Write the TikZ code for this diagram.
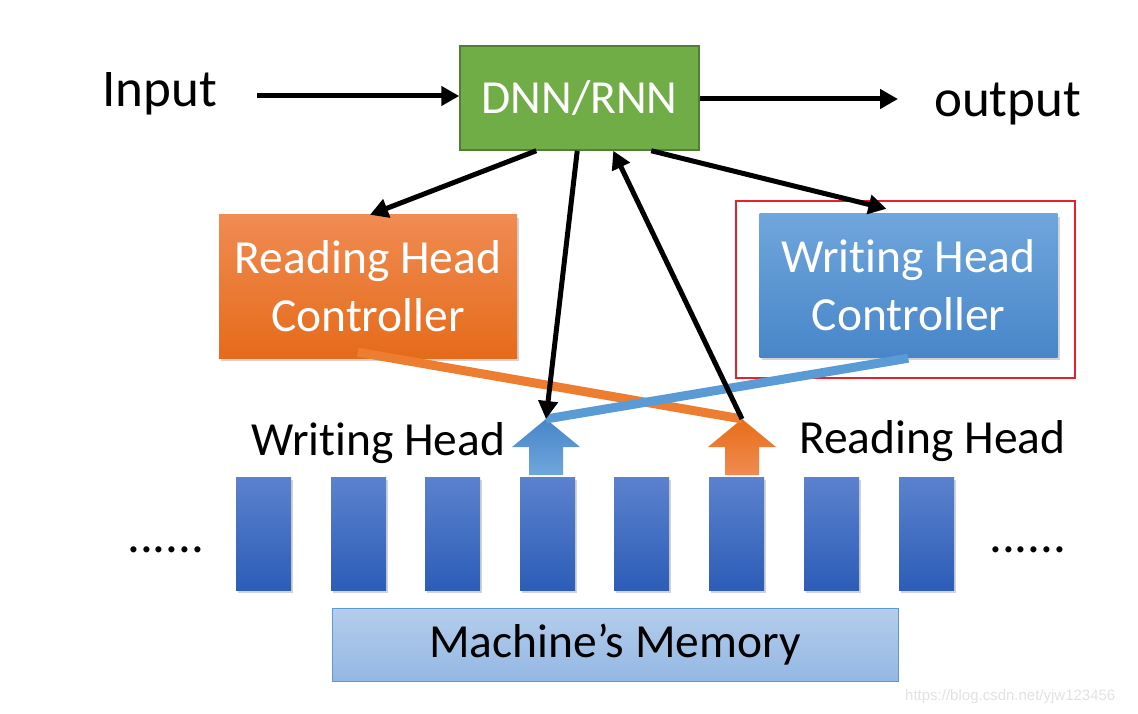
\documentclass[tikz,border=0pt]{standalone}
\usepackage{fontspec}
\setmainfont{Carlito}[Ligatures=NoCommon]
\newfontfamily\wmfont{Liberation Sans}
\usetikzlibrary{arrows.meta,shadows,fadings}
\definecolor{dnngreen}{HTML}{70AD47}
\definecolor{dnnborder}{HTML}{507E32}
\definecolor{orgtop}{HTML}{F08B52}
\definecolor{orgbot}{HTML}{E56B1A}
\definecolor{blutop}{HTML}{6FA6DC}
\definecolor{blubot}{HTML}{4886C9}
\definecolor{celltop}{HTML}{5B82CE}
\definecolor{cellbot}{HTML}{2D5DB7}
\definecolor{memtop}{HTML}{B4CEEC}
\definecolor{membot}{HTML}{94B7E3}
\definecolor{memborder}{HTML}{5B9BD5}
\definecolor{oline}{HTML}{ED7D31}
\definecolor{bline}{HTML}{5B9BD5}
\definecolor{redbox}{HTML}{E8202A}
\definecolor{wm}{HTML}{E2E2E2}
\tikzset{
  bigfont/.style={font=\fontsize{47.5}{58}\selectfont},
  iofont/.style={font=\fontsize{53}{60}\selectfont},
  dnnbox/.style={draw=dnnborder, line width=1.5pt, fill=dnngreen, text=white, bigfont,
    minimum width=239pt, minimum height=104pt, inner sep=0pt},
  ctrl/.style={text=white, bigfont, align=center, minimum width=298pt, minimum height=143pt,
    inner sep=0pt, drop shadow={shadow xshift=2pt, shadow yshift=-3pt, opacity=0.35}},
  rctrl/.style={ctrl, top color=orgtop, bottom color=orgbot},
  wctrl/.style={ctrl, top color=blutop, bottom color=blubot},
  cell/.style={top color=celltop, bottom color=cellbot, minimum width=55pt, minimum height=113pt,
    inner sep=0pt, drop shadow={shadow xshift=2pt, shadow yshift=-3pt, opacity=0.35}},
  membox/.style={draw=memborder, line width=1pt, top color=memtop, bottom color=membot,
    bigfont, minimum width=566pt, minimum height=73pt, inner sep=0pt},
  blk/.style={draw=black, line width=5pt, -{Triangle[length=18pt,width=19pt]}},
  orgline/.style={draw=oline, line width=9pt},
  bluline/.style={draw=bline, line width=9pt},
  lbl/.style={anchor=base west, inner sep=0pt},
}
\begin{document}
\begin{tikzpicture}[x=1pt,y=-1pt]
\useasboundingbox (0,0) rectangle (1138,714);

% top row
\node[dnnbox] (dnn) at (579.5,98) {DNN/RNN};
\node[lbl, iofont] (in) at (102,107) {Input};
\node[lbl, iofont] (out) at (934,117) {output};
\draw[blk] (257,96) coordinate (inS) -- (dnn.west |- inS);
\draw[blk] (dnn.east |- 0,99) coordinate (outS) -- (898,99);

% controllers
\node[rctrl] (rhc) at (368,286.5) {Reading Head\\Controller};
\node[wctrl] (whc) at (908.5,285.5) {Writing Head\\Controller};
\draw[redbox, line width=1.5pt] (736,201) rectangle (1075,378);

% memory cells
\foreach \i/\x in {1/236,2/331,3/425,4/520,5/614,6/709,7/804,8/899}{
  \node[cell] (c\i) at (\x+27.5,533.5) {};
}

% head block arrows
\coordinate (wtip) at (546,419);
\coordinate (rtip) at (742,419);
\shade[top color=blubot, bottom color=blutop]
  (wtip) -- ++(34,28) -- ++(-17,0) -- ++(0,28) -- ++(-34,0) -- ++(0,-28) -- ++(-17,0) -- cycle;
\shade[top color=orgbot!90!orange, bottom color=orgtop]
  (rtip) -- ++(34,28) -- ++(-17,0) -- ++(0,28) -- ++(-34,0) -- ++(0,-28) -- ++(-17,0) -- cycle;

% head labels
\node[lbl, bigfont] (wh) at (251,455) {Writing Head};
\node[lbl, bigfont] (rh) at (799,453) {Reading Head};

% dots
\node[lbl, font=\fontsize{51}{60}\selectfont] (ldots) at (127,552) {......};
\node[lbl, font=\fontsize{51}{60}\selectfont] (rdots) at (989,552) {......};

% memory
\node[membox] (mem) at (615,644.5) {Machine’s Memory};

% controller-head lines
\draw[orgline] ([xshift=139pt,yshift=6pt]rhc.south west) -- (rtip);
\draw[bluline] (wtip) -- ([xshift=149pt,yshift=-1pt]whc.south west);

% black connectors
\draw[blk] ([xshift=77pt]dnn.south west) -- ([xshift=2pt]rhc.north);
\draw[blk] ([xshift=118pt]dnn.south west) -- (wtip);
\draw[blk] (rtip) -- ([xshift=154pt]dnn.south west);
\draw[blk] ([xshift=192pt]dnn.south west) -- ([xshift=-22pt,yshift=5pt]whc.north);

% watermark
\node[lbl, font=\wmfont\fontsize{15}{18}\selectfont, text=wm] (wmk) at (905,700) {https://blog.csdn.net/yjw123456};
\end{tikzpicture}
\end{document}
